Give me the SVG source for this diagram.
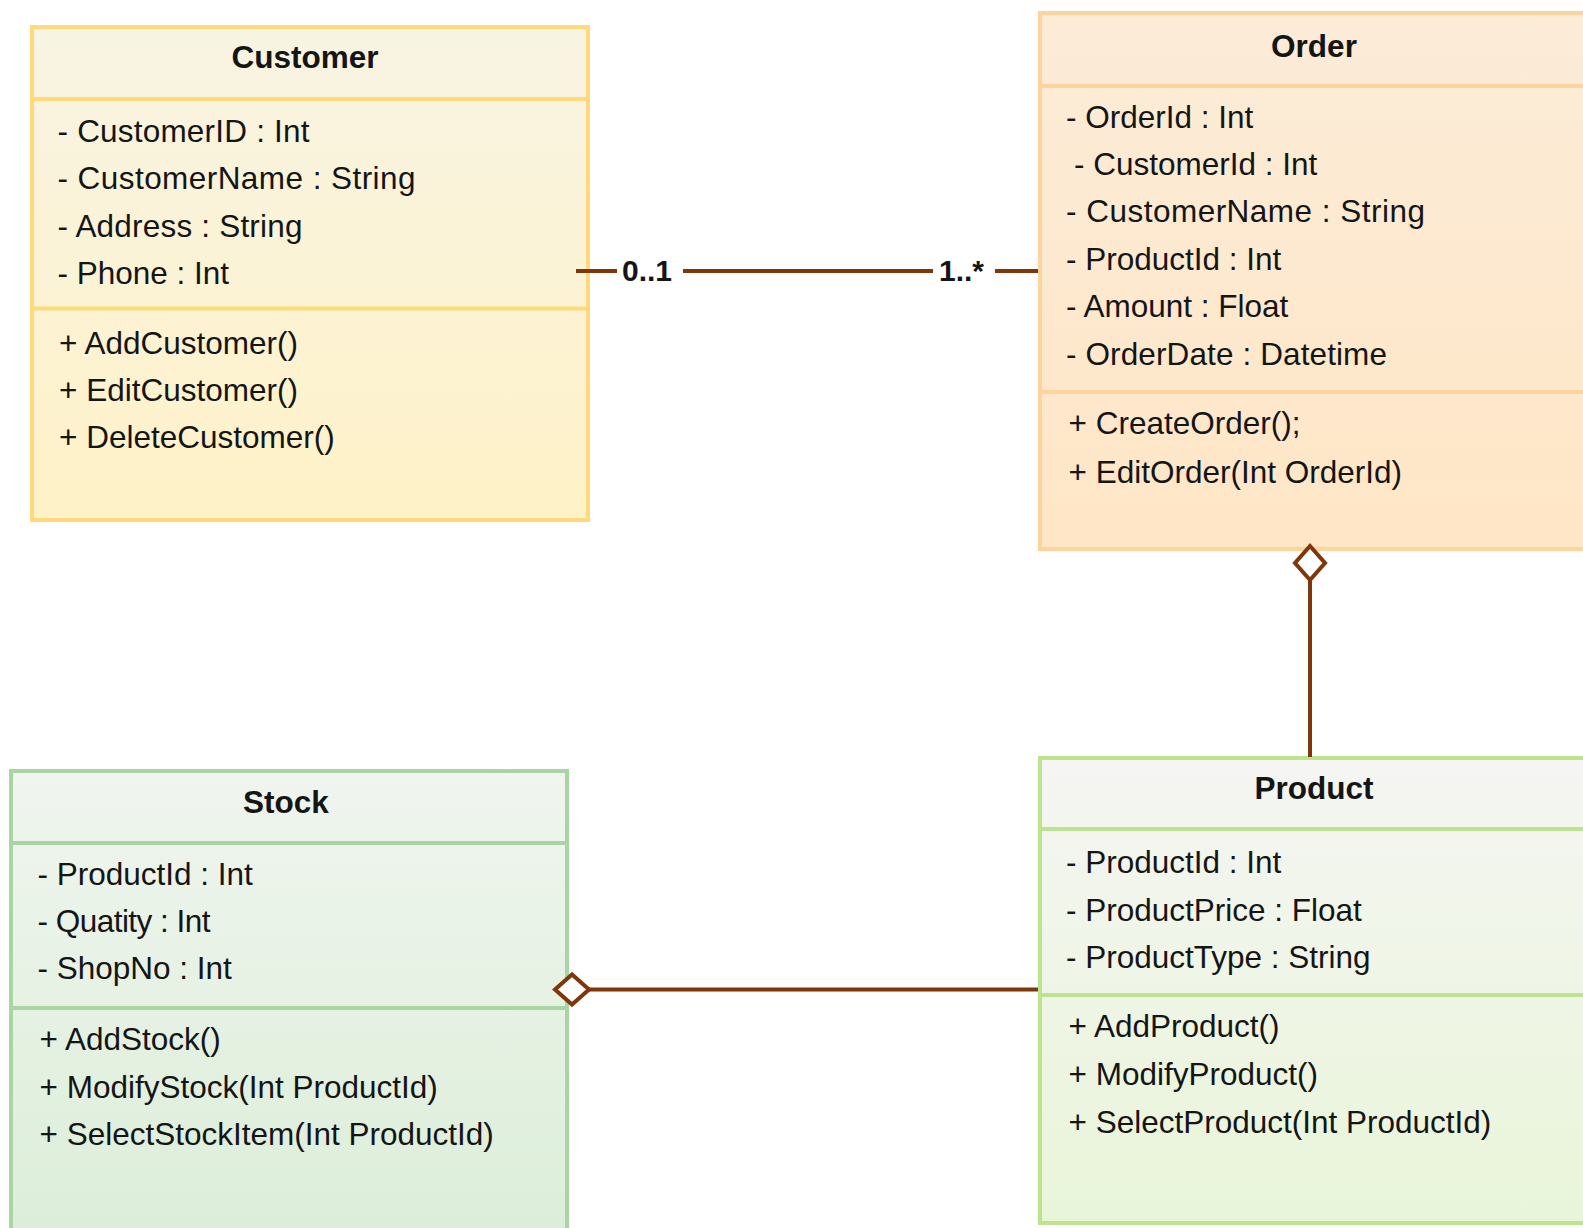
<svg xmlns="http://www.w3.org/2000/svg" width="1583" height="1228" viewBox="0 0 1583 1228">
  <style>
    .box { stroke-width: 4; }
    .div { stroke-width: 4; fill: none; }
    .title { font-family: "Liberation Sans", Arial, sans-serif; font-weight: bold; font-size: 31.5px; fill: #151515; text-anchor: middle; }
    .item { font-family: "Liberation Sans", Arial, sans-serif; font-size: 31.5px; fill: #151515; }
    .mult { font-family: "Liberation Sans", Arial, sans-serif; font-weight: bold; font-size: 30px; fill: #151515; }
    .link { stroke: #7f360b; stroke-width: 4; fill: none; }
  </style>
  <defs>
    <linearGradient id="gCustomer" x1="0" y1="0" x2="0" y2="1">
      <stop offset="0" stop-color="#f8f4e3"/>
      <stop offset="1" stop-color="#fff2c8"/>
    </linearGradient>
    <linearGradient id="gOrder" x1="0" y1="0" x2="0" y2="1">
      <stop offset="0" stop-color="#fbecd8"/>
      <stop offset="1" stop-color="#ffe6c6"/>
    </linearGradient>
    <linearGradient id="gProduct" x1="0" y1="0" x2="0" y2="1">
      <stop offset="0" stop-color="#f5f5f3"/>
      <stop offset="1" stop-color="#e9f5d9"/>
    </linearGradient>
    <linearGradient id="gStock" x1="0" y1="0" x2="0" y2="1">
      <stop offset="0" stop-color="#f0f5ef"/>
      <stop offset="1" stop-color="#dbeed8"/>
    </linearGradient>
    <!-- hollow diamond for aggregation ends -->
    <marker id="aggDiamond" markerUnits="userSpaceOnUse" markerWidth="40" markerHeight="36" refX="36" refY="17" orient="auto" overflow="visible">
      <path d="M2,17 L19,2 L36,17 L19,32 Z" fill="#ffffff" stroke="#7f360b" stroke-width="4" stroke-linejoin="miter"/>
    </marker>
  </defs>

  <rect width="1583" height="1228" fill="#ffffff"/>

  <!-- Customer class -->
  <g id="customer">
    <rect class="box" x="32" y="27" width="556" height="493" fill="url(#gCustomer)" stroke="#ffd97a"/>
    <path class="div" d="M32,99 H588 M32,308.5 H588" stroke="#ffd97a"/>
    <text class="title" x="305" y="67.5">Customer</text>
    <text class="item" x="57.5" y="142" textLength="252" lengthAdjust="spacing">- CustomerID : Int</text>
    <text class="item" x="57.5" y="189.3" textLength="358" lengthAdjust="spacing">- CustomerName : String</text>
    <text class="item" x="57.5" y="236.7" textLength="245" lengthAdjust="spacing">- Address : String</text>
    <text class="item" x="57.5" y="283.5">- Phone : Int</text>
    <text class="item" x="59" y="353.5">+ AddCustomer()</text>
    <text class="item" x="59" y="400.9">+ EditCustomer()</text>
    <text class="item" x="59" y="448.3">+ DeleteCustomer()</text>
  </g>

  <!-- Order class -->
  <g id="order">
    <rect class="box" x="1040" y="13" width="570" height="536" fill="url(#gOrder)" stroke="#ffd49c"/>
    <path class="div" d="M1040,86 H1610 M1040,392 H1610" stroke="#ffd49c"/>
    <text class="title" x="1314" y="57">Order</text>
    <text class="item" x="1066" y="127.7">- OrderId : Int</text>
    <text class="item" x="1074" y="175">- CustomerId : Int</text>
    <text class="item" x="1066" y="222.2" textLength="359" lengthAdjust="spacing">- CustomerName : String</text>
    <text class="item" x="1066" y="269.8">- ProductId : Int</text>
    <text class="item" x="1066" y="317.4">- Amount : Float</text>
    <text class="item" x="1066" y="364.6" textLength="321" lengthAdjust="spacing">- OrderDate : Datetime</text>
    <text class="item" x="1068.5" y="434.4">+ CreateOrder();</text>
    <text class="item" x="1068.5" y="482.6">+ EditOrder(Int OrderId)</text>
  </g>

  <!-- Stock class -->
  <g id="stock">
    <rect class="box" x="11" y="771" width="556" height="480" fill="url(#gStock)" stroke="#a8d5a3"/>
    <path class="div" d="M11,843 H567 M11,1008 H567" stroke="#a8d5a3"/>
    <text class="title" x="286" y="813">Stock</text>
    <text class="item" x="37.5" y="884.5">- ProductId : Int</text>
    <text class="item" x="37.5" y="931.5" textLength="173" lengthAdjust="spacing">- Quatity : Int</text>
    <text class="item" x="37.5" y="979">- ShopNo : Int</text>
    <text class="item" x="39.5" y="1049.5">+ AddStock()</text>
    <text class="item" x="39.5" y="1097.5">+ ModifyStock(Int ProductId)</text>
    <text class="item" x="39.5" y="1145">+ SelectStockItem(Int ProductId)</text>
  </g>

  <!-- Product class -->
  <g id="product">
    <rect class="box" x="1040" y="758" width="570" height="465" fill="url(#gProduct)" stroke="#bce48e"/>
    <path class="div" d="M1040,829 H1610 M1040,995 H1610" stroke="#bce48e"/>
    <text class="title" x="1314" y="799">Product</text>
    <text class="item" x="1066" y="873">- ProductId : Int</text>
    <text class="item" x="1066" y="920.5">- ProductPrice : Float</text>
    <text class="item" x="1066" y="967.6">- ProductType : String</text>
    <text class="item" x="1068.5" y="1037">+ AddProduct()</text>
    <text class="item" x="1068.5" y="1084.5">+ ModifyProduct()</text>
    <text class="item" x="1068.5" y="1132.8">+ SelectProduct(Int ProductId)</text>
  </g>

  <!-- Relationships -->
  <g id="connectors">
    <!-- Customer 0..1 — 1..* Order association -->
    <path class="link" d="M576,271 H617 M683,271 H933 M995,271 H1038"/>
    <text class="mult" x="622" y="281">0..1</text>
    <text class="mult" x="939" y="281">1..*</text>
    <!-- Product aggregated into Order -->
    <path class="link" d="M1310,757 V546" marker-end="url(#aggDiamond)"/>
    <!-- Product aggregated into Stock -->
    <path class="link" d="M1038,989.5 H555" marker-end="url(#aggDiamond)"/>
  </g>
</svg>
